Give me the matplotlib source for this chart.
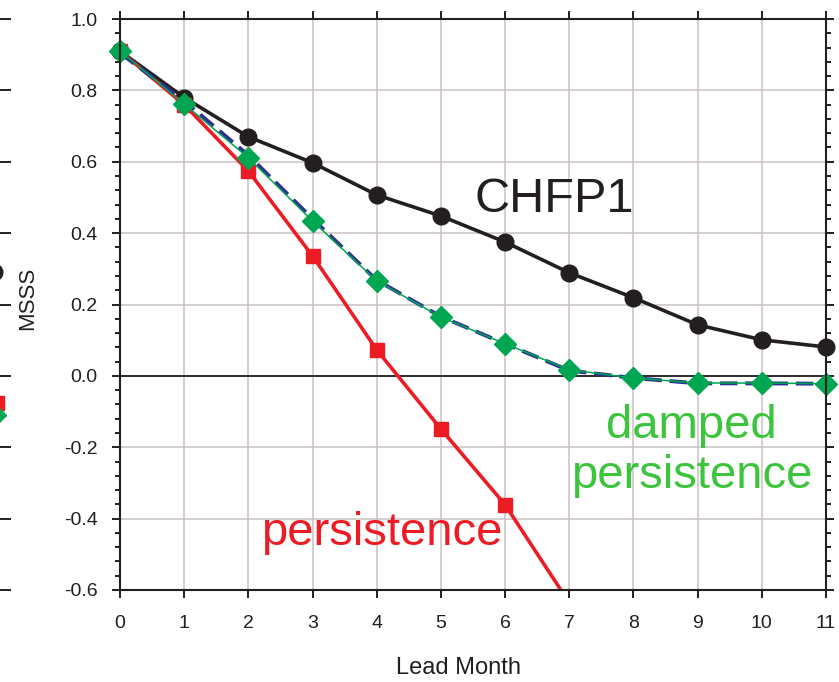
import matplotlib.pyplot as plt
from matplotlib.ticker import MultipleLocator

plt.rcParams['font.family'] = ['Liberation Sans', 'DejaVu Sans']

months = list(range(12))
chfp1 = [0.91, 0.78, 0.67, 0.597, 0.507, 0.448, 0.375, 0.289, 0.219, 0.143, 0.101, 0.081]
persistence_months = list(range(8))
persistence = [0.91, 0.76, 0.574, 0.336, 0.073, -0.149, -0.361, -0.636]
damped = [0.91, 0.762, 0.611, 0.434, 0.266, 0.165, 0.09, 0.017, -0.006, -0.02, -0.02, -0.022]
damped_blue = [0.905, 0.77, 0.618, 0.44, 0.268, 0.166, 0.09, 0.015, -0.006, -0.021, -0.021, -0.022]

# bits of the neighbouring panel that show at the left edge
left_last = {'chfp1': 0.29, 'persistence': -0.075, 'damped': -0.11}

black = '#231f20'
red = '#ed1c24'
green = '#00a651'
blue = '#2e3192'
text_green = '#3dc43d'
grid_col = '#c9c1c1'

fig = plt.figure(figsize=(8.39, 6.82), dpi=100)
ax = fig.add_axes([120 / 839, 1 - 590 / 682, 706 / 839, 571 / 682])

ax.set_xlim(0, 11)
ax.set_ylim(-0.6, 1.0)
ax.set_xticks(months)
ax.yaxis.set_major_locator(MultipleLocator(0.2))
ax.yaxis.set_minor_locator(MultipleLocator(0.04))
ax.set_yticklabels([f'{v:.1f}' for v in ax.get_yticks()])

ax.grid(True, which='major', color=grid_col, linewidth=1.1)
ax.axhline(0, color=black, linewidth=1.3, zorder=2)

ax.plot(months, chfp1, color=black, linewidth=2.6, marker='o', markersize=12,
        clip_on=False, zorder=3)
ax.plot(persistence_months, persistence, color=red, linewidth=2.6, marker='s',
        markersize=10, zorder=4)
ax.plot(months, damped_blue, color=blue, linewidth=2.8, linestyle=(0, (4.5, 2)),
        clip_on=False, zorder=5)
ax.plot(months, damped, color=green, linewidth=1.1, marker='D', markersize=11,
        clip_on=False, zorder=6)

ax.text(6.76, 0.493, 'CHFP1', fontsize=35, color=black, ha='center', va='center')
ax.text(4.08, -0.474, 'persistence', fontsize=34, color=red, ha='center', va='baseline')
ax.text(8.9, -0.174, 'damped', fontsize=34, color=text_green, ha='center', va='baseline')
ax.text(8.9, -0.314, 'persistence', fontsize=34, color=text_green, ha='center', va='baseline')

for side in ['left', 'right', 'top', 'bottom']:
    ax.spines[side].set_color(black)
    ax.spines[side].set_linewidth(1.5)
    ax.spines[side].set_zorder(7)

ax.tick_params(which='major', direction='out', length=6, width=1.4, color=black,
               top=True, right=True, labelsize=14, labelcolor=black)
ax.tick_params(which='minor', direction='out', length=3.5, width=1.4, color=black,
               right=True)
ax.tick_params(axis='x', which='minor', bottom=False, top=False)
ax.tick_params(axis='y', which='major', pad=10)
ax.tick_params(axis='x', which='major', pad=12)

ax.set_xlabel('Lead Month', fontsize=17, color=black)
ax.set_ylabel('MSSS', fontsize=16, color=black)
ax.xaxis.set_label_coords(0.48, -0.118)
ax.yaxis.set_label_coords(-0.116, 0.51)

# neighbouring panel, almost entirely off the figure
nb = fig.add_axes([-0.3, 1 - 590 / 682, 0.3 - 3 / 839, 571 / 682])
nb.set_xlim(0, 11)
nb.set_ylim(-0.6, 1.0)
nb.patch.set_visible(False)
for side in ['left', 'top', 'bottom', 'right']:
    nb.spines[side].set_visible(False)
nb.set_xticks([])
nb.yaxis.set_major_locator(MultipleLocator(0.2))
nb.tick_params(axis='y', left=False, labelleft=False, right=True, direction='out',
               length=10, width=1.4, color=black)
nb.plot([10.85], [left_last['chfp1']], marker='o', markersize=12, color=black, clip_on=False)
nb.plot([11], [left_last['persistence']], marker='s', markersize=10, color=red, clip_on=False)
nb.plot([11], [left_last['damped']], marker='D', markersize=9.5, color=green, clip_on=False)

fig.savefig('out.png', dpi=100)
